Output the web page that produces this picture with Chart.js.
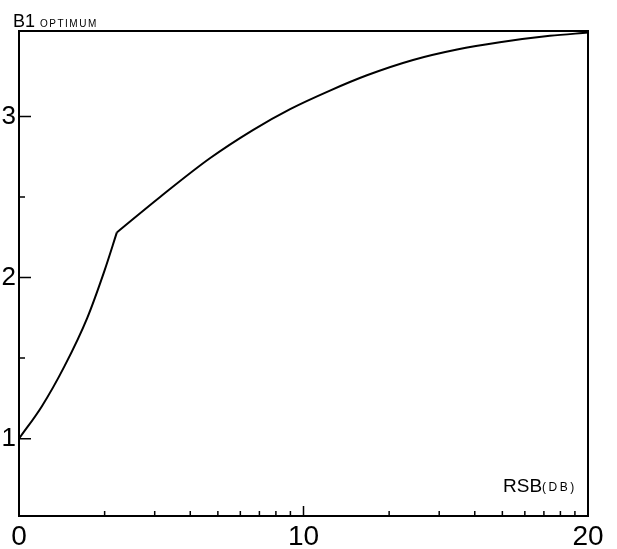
<!DOCTYPE html>
<html>
<head>
<meta charset="utf-8">
<script src="https://cdn.jsdelivr.net/npm/chart.js@4"></script>
<style>
html,body{margin:0;padding:0;background:#fff;}
#wrap{width:617px;height:549px;position:relative;}
</style>
</head>
<body>
<div id="wrap"><canvas id="c"></canvas></div>
<script>
// Curve: RSB in dB, B1 optimum.
// Lower branch (up to the kink) and upper branch (from the kink on).
const rsbDbLow = [0, 0.8, 1.6, 2.4, 3.0, 3.44];
const b1OptLow = [1.0, 1.2, 1.45, 1.75, 2.04, 2.28];
const rsbDbHigh = [3.44, 4.96, 6.71, 8.22, 9.53, 10.93, 12.23, 13.85, 15.40, 16.9, 18.66, 20];
const b1OptHigh = [2.28, 2.50, 2.74, 2.915, 3.045, 3.16, 3.255, 3.35, 3.415, 3.46, 3.50, 3.52];

// Axis ticks (x axis is logarithmic in power ratio, labelled in dB)
const xMajorTicks = [0, 10, 20];
const xMinorTicks = [3.01, 4.77, 6.02, 6.99, 7.78, 8.45, 9.03, 9.54, 13.01, 14.77, 16.02, 16.99, 17.78, 18.45, 19.03, 19.54];
const yMajorTicks = [1, 2, 3];
const yMinorTicks = [1.5, 2.5];

const FONT = "'Liberation Sans', sans-serif";

const framePlugin = {
  id: 'frame',
  afterDraw(chart) {
    const ctx = chart.ctx, a = chart.chartArea;
    const xs = chart.scales.x, ys = chart.scales.y;
    ctx.save();
    ctx.strokeStyle = '#000';
    ctx.lineWidth = 2;
    ctx.strokeRect(a.left, a.top, a.right - a.left, a.bottom - a.top);
    ctx.lineWidth = 1.5;
    ctx.beginPath();
    xMinorTicks.forEach(v => {
      const p = xs.getPixelForValue(v);
      ctx.moveTo(p, a.bottom); ctx.lineTo(p, a.bottom - 5);
    });
    xMajorTicks.forEach(v => {
      const p = xs.getPixelForValue(v);
      ctx.moveTo(p, a.bottom); ctx.lineTo(p, a.bottom - 10);
    });
    yMajorTicks.forEach(v => {
      const p = ys.getPixelForValue(v);
      ctx.moveTo(a.left, p); ctx.lineTo(a.left + 12, p);
    });
    yMinorTicks.forEach(v => {
      const p = ys.getPixelForValue(v);
      ctx.moveTo(a.left, p); ctx.lineTo(a.left + 6, p);
    });
    ctx.stroke();

    ctx.fillStyle = '#000';
    ctx.textBaseline = 'alphabetic';
    ctx.textAlign = 'left';
    // y title
    ctx.font = "18px " + FONT;
    ctx.fillText('B1', 13, 27);
    ctx.font = "10px " + FONT;
    ctx.letterSpacing = '1.5px';
    ctx.fillText('OPTIMUM', 40, 27);
    ctx.letterSpacing = '0px';
    // x title
    ctx.font = "19px " + FONT;
    ctx.fillText('RSB', 503, 492);
    ctx.font = "12px " + FONT;
    ctx.letterSpacing = '2.5px';
    ctx.fillText('(DB)', 542, 491);
    ctx.restore();
  }
};

const lineStyle = {
  borderColor: '#000',
  borderWidth: 2,
  pointRadius: 0,
  cubicInterpolationMode: 'monotone',
  fill: false
};

new Chart(document.getElementById('c'), {
  type: 'line',
  data: {
    datasets: [
      Object.assign({ data: rsbDbLow.map((x, i) => ({ x: x, y: b1OptLow[i] })) }, lineStyle),
      Object.assign({ data: rsbDbHigh.map((x, i) => ({ x: x, y: b1OptHigh[i] })) }, lineStyle)
    ]
  },
  options: {
    responsive: true,
    maintainAspectRatio: false,
    animation: false,
    layout: { padding: { top: 31, right: 29, left: 0, bottom: 0 } },
    plugins: { legend: { display: false }, tooltip: { enabled: false } },
    scales: {
      x: {
        type: 'linear',
        min: 0, max: 20,
        afterBuildTicks(axis) { axis.ticks = xMajorTicks.map(v => ({ value: v })); },
        afterFit(scale) { scale.height = 33; },
        grid: { display: false, drawTicks: false },
        border: { display: false },
        ticks: {
          color: '#000',
          font: { family: FONT, size: 28 },
          padding: 4,
          maxRotation: 0,
          autoSkip: false,
          callback: v => String(v)
        }
      },
      y: {
        type: 'linear',
        min: 0.52, max: 3.53,
        afterBuildTicks(axis) { axis.ticks = yMajorTicks.map(v => ({ value: v })); },
        afterFit(scale) { scale.width = 19; },
        grid: { display: false, drawTicks: false },
        border: { display: false },
        ticks: {
          color: '#000',
          font: { family: FONT, size: 26 },
          padding: 3,
          callback: v => String(v)
        }
      }
    }
  },
  plugins: [framePlugin]
});
</script>
</body>
</html>
